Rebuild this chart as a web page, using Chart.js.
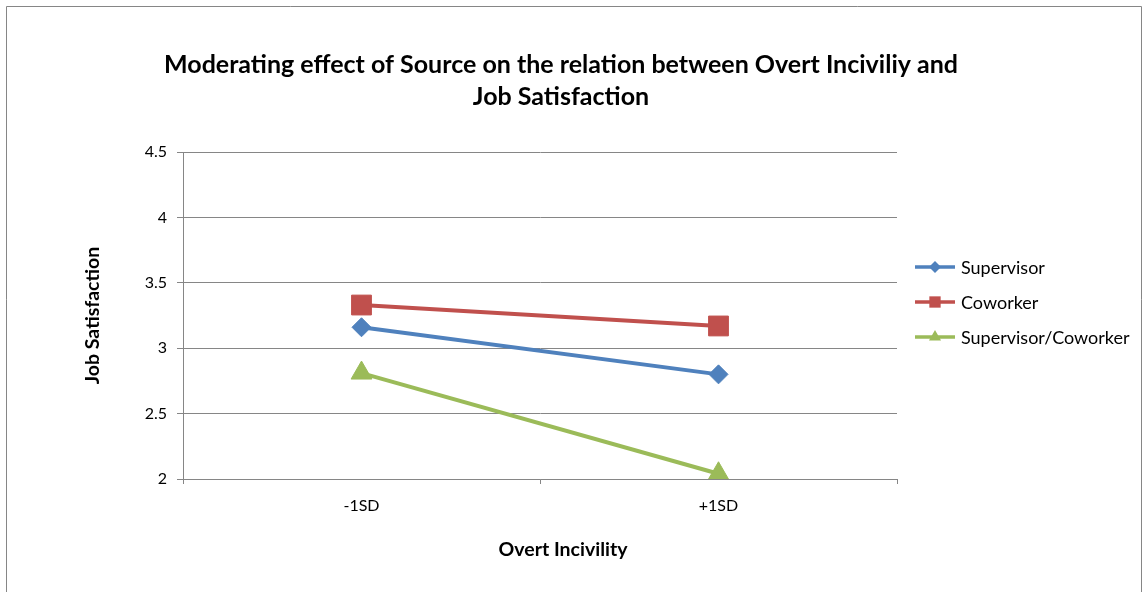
<!DOCTYPE html>
<html>
<head>
<meta charset="utf-8">
<script src="https://cdn.jsdelivr.net/npm/chart.js@4/dist/chart.umd.min.js"></script>
<style>
  html, body { margin: 0; padding: 0; background: #fff; }
</style>
</head>
<body>
<canvas id="myChart" width="1145" height="592"></canvas>
<script>
// chart data
const categories = ['-1SD', '+1SD'];
const supervisor = [3.16, 2.80];
const coworker = [3.33, 3.17];
const supCoworker = [2.81, 2.04];
const yTicks = [2, 2.5, 3, 3.5, 4, 4.5];
const seriesNames = ['Supervisor', 'Coworker', 'Supervisor/Coworker'];
const titleLines = ['Moderating effect of Source on the relation between Overt Inciviliy and', 'Job Satisfaction'];
const xTitle = 'Overt Incivility';
const yTitle = 'Job Satisfaction';

const FONT = 'Lato';
const GRID = '#868686';

// frame, title, x axis title and legend drawn around the plot
const decorations = {
  id: 'decorations',
  beforeDraw(chart) {
    const ctx = chart.ctx;
    ctx.save();
    ctx.fillStyle = '#fff';
    ctx.fillRect(0, 0, chart.width, chart.height);
    ctx.strokeStyle = GRID;
    ctx.lineWidth = 1;
    ctx.beginPath();
    ctx.moveTo(6.5, 600);
    ctx.lineTo(6.5, 6.5);
    ctx.lineTo(1141.5, 6.5);
    ctx.lineTo(1141.5, 600);
    ctx.stroke();
    ctx.restore();
  },
  afterDraw(chart) {
    const ctx = chart.ctx;
    ctx.save();
    ctx.fillStyle = '#000';
    ctx.textAlign = 'center';
    ctx.textBaseline = 'middle';
    ctx.font = 'bold 25px ' + FONT;
    titleLines.forEach((t, i) => ctx.fillText(t, 561, 65 + i * 32));

    ctx.font = 'bold 19.5px ' + FONT;
    ctx.fillText(xTitle, 563, 550);

    // legend
    ctx.textAlign = 'left';
    ctx.font = '18px ' + FONT;
    const legendRadius = [6, 8, 7];
    chart.data.datasets.forEach((ds, i) => {
      const y = 267 + i * 35;
      ctx.strokeStyle = ds.borderColor;
      ctx.fillStyle = ds.borderColor;
      ctx.lineWidth = 3.5;
      ctx.beginPath();
      ctx.moveTo(915, y);
      ctx.lineTo(955, y);
      ctx.stroke();
      Chart.helpers.drawPoint(ctx, { pointStyle: ds.pointStyle, radius: legendRadius[i], rotation: 0, borderWidth: 0 }, 935, y);
      ctx.fillStyle = '#000';
      ctx.fillText(ds.label, 961, y + 1);
    });
    ctx.restore();
  }
};

const ctx = document.getElementById('myChart');

const chart = new Chart(ctx, {
  type: 'line',
  data: {
    labels: categories,
    datasets: [
      {
        label: seriesNames[0],
        data: supervisor,
        borderColor: '#4F81BD',
        backgroundColor: '#4F81BD',
        pointStyle: 'rectRot',
        pointRadius: 9.5
      },
      {
        label: seriesNames[1],
        data: coworker,
        borderColor: '#C0504D',
        backgroundColor: '#C0504D',
        pointStyle: 'rect',
        pointRadius: 14
      },
      {
        label: seriesNames[2],
        data: supCoworker,
        borderColor: '#9BBB59',
        backgroundColor: '#9BBB59',
        pointStyle: 'triangle',
        pointRadius: 12
      }
    ]
  },
  options: {
    responsive: false,
    animation: false,
    devicePixelRatio: 1,
    layout: {
      padding: { left: 0, right: 248, top: 152, bottom: 0 }
    },
    elements: {
      line: { borderWidth: 4, tension: 0 },
      point: { borderWidth: 1, hoverRadius: 9 }
    },
    plugins: {
      legend: { display: false },
      title: { display: false },
      tooltip: { enabled: false }
    },
    scales: {
      x: {
        offset: true,
        grid: { offset: true, drawOnChartArea: false, drawTicks: true, tickLength: 5, color: GRID },
        border: { color: GRID },
        ticks: { color: '#000', font: { family: FONT, size: 16 }, padding: 12 },
        afterFit(scale) { scale.height = 113; }
      },
      y: {
        min: 2,
        max: 4.5,
        afterBuildTicks(scale) { scale.ticks = yTicks.map(v => ({ value: v })); },
        ticks: {
          color: '#000',
          font: { family: FONT, size: 16 },
          padding: 10,
          callback: v => String(v)
        },
        grid: { color: GRID, tickLength: 6 },
        border: { color: GRID },
        title: {
          display: true,
          text: yTitle,
          color: '#000',
          font: { family: FONT, size: 19.5, weight: 'bold' },
          padding: { top: 81, bottom: 0 }
        },
        afterFit(scale) { scale.width = 183; }
      }
    }
  },
  plugins: [decorations]
});
</script>
</body>
</html>
